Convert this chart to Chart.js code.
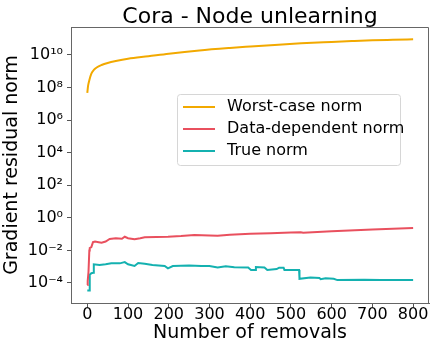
<!DOCTYPE html>
<html>
<head>
    <meta charset="UTF-8">
    <title>Cora - Node unlearning</title>
    <script src="https://cdn.jsdelivr.net/npm/chart.js"></script>
    <style>
        body {
            margin: 0;
            background-color: #fff;
        }
        #chart {
            display: block;
        }
    </style>
</head>
<body>
<canvas id="chart" width="436" height="349"></canvas>
<script>
    // values (y is a log axis)
    const worstX = [0, 2, 5, 10, 16, 23, 35, 50, 70, 100, 150, 200, 275, 350, 400, 450, 525, 600, 650, 700, 750, 800];
    const worstNorm = [4.7e7, 1.3e8, 2.8e8, 7.1e8, 1.2e9, 1.7e9, 2.4e9, 3.2e9, 4.2e9, 5.8e9, 8.3e9, 1.2e10, 1.9e10,
        2.7e10, 3.3e10, 4.0e10, 5.2e10, 6.3e10, 7.1e10, 7.9e10, 8.5e10, 9.1e10];

    const dataDepX = [0, 1, 3, 5, 6, 10, 14, 19, 28, 35, 45, 55, 70, 85, 92, 100, 116, 130, 141, 170, 198, 230, 263,
        300, 320, 350, 400, 450, 500, 524, 530, 600, 700, 800];
    const dataDepNorm = [7.6e-5, 1.3e-4, 4.9e-4, 1.0e-2, 1.4e-2, 1.6e-2, 3.2e-2, 3.5e-2, 3.2e-2, 3.0e-2, 3.5e-2, 5.0e-2,
        5.5e-2, 5.2e-2, 6.9e-2, 5.6e-2, 4.8e-2, 5.6e-2, 6.5e-2, 6.6e-2, 6.9e-2, 7.6e-2, 8.9e-2, 8.3e-2, 7.9e-2, 9.3e-2,
        1.05e-1, 1.15e-1, 1.26e-1, 1.3e-1, 1.2e-1, 1.5e-1, 1.9e-1, 2.4e-1];

    const trueX = [0, 5, 6, 10, 15, 16, 30, 45, 59, 80, 92, 100, 116, 125, 141, 160, 190, 198, 210, 250, 280, 300, 320,
        340, 361, 395, 402, 412, 414, 435, 442, 465, 471, 482, 484, 520, 521, 548, 570, 573, 585, 605, 614, 680, 720, 800];
    const trueNorm = [3.5e-5, 3.5e-5, 3.2e-4, 4.0e-4, 4.2e-4, 1.4e-3, 1.26e-3, 1.4e-3, 1.6e-3, 1.6e-3, 1.9e-3, 1.4e-3,
        1.1e-3, 1.7e-3, 1.5e-3, 1.26e-3, 1.1e-3, 7.9e-4, 1.1e-3, 1.2e-3, 1.1e-3, 1.1e-3, 8.9e-4, 1.05e-3, 9.1e-4, 8.9e-4,
        6.3e-4, 6.3e-4, 9.5e-4, 8.9e-4, 6.3e-4, 7.1e-4, 8.7e-4, 8.7e-4, 6.3e-4, 6.3e-4, 1.8e-4, 2.2e-4, 2.0e-4, 1.7e-4,
        1.95e-4, 1.8e-4, 1.5e-4, 1.6e-4, 1.5e-4, 1.5e-4];

    const xTicks = [0, 100, 200, 300, 400, 500, 600, 700, 800];
    const yTicks = [1e-4, 1e-2, 1e0, 1e2, 1e4, 1e6, 1e8, 1e10];

    const sup = {'-': '\u207B', '0': '\u2070', '1': '\u00B9', '2': '\u00B2', '3': '\u00B3', '4': '\u2074',
        '5': '\u2075', '6': '\u2076', '7': '\u2077', '8': '\u2078', '9': '\u2079'};
    function powLabel(v) {
        const e = String(Math.round(Math.log10(v)));
        return '10' + e.split('').map(c => sup[c]).join('');
    }
    function pts(xs, ys) {
        return xs.map((x, i) => ({x: x, y: ys[i]}));
    }

    const font = 'DejaVu Sans';

    // title centred on the plot, plus top and right spines
    const frame = {
        id: 'frame',
        afterDraw(chart) {
            const a = chart.chartArea, c = chart.ctx;
            c.save();
            c.strokeStyle = '#666';
            c.lineWidth = 1;
            c.beginPath();
            c.moveTo(a.left, a.top + 0.5);
            c.lineTo(a.right - 0.5, a.top + 0.5);
            c.lineTo(a.right - 0.5, a.bottom);
            c.stroke();
            c.fillStyle = '#000';
            c.font = '22px ' + font;
            c.textAlign = 'center';
            c.textBaseline = 'alphabetic';
            c.fillText('Cora - Node unlearning', (a.left + a.right) / 2, 23);
            c.restore();
        }
    };

    // legend box inside the plot
    const boxLegend = {
        id: 'boxLegend',
        afterDraw(chart) {
            const a = chart.chartArea, c = chart.ctx;
            const x = a.left + 106, y = a.top + 67, w = 223, h = 71;
            c.save();
            c.fillStyle = 'rgba(255,255,255,0.8)';
            c.strokeStyle = '#d6d6d6';
            c.lineWidth = 1;
            c.beginPath();
            c.roundRect(x + 0.5, y + 0.5, w, h, 3);
            c.fill();
            c.stroke();
            c.font = '16px ' + font;
            c.textBaseline = 'middle';
            chart.data.datasets.forEach((ds, i) => {
                const ry = y + 13 + i * 22;
                c.strokeStyle = ds.borderColor;
                c.lineWidth = 2;
                c.beginPath();
                c.moveTo(x + 6, ry);
                c.lineTo(x + 38, ry);
                c.stroke();
                c.fillStyle = '#000';
                c.fillText(ds.label, x + 50, ry);
            });
            c.restore();
        }
    };

    new Chart(document.getElementById('chart'), {
        type: 'line',
        data: {
            datasets: [{
                label: 'Worst-case norm',
                data: pts(worstX, worstNorm),
                borderColor: '#f2a900',
                borderWidth: 2,
                pointRadius: 0,
                cubicInterpolationMode: 'monotone'
            }, {
                label: 'Data-dependent norm',
                data: pts(dataDepX, dataDepNorm),
                borderColor: '#e9505e',
                borderWidth: 2,
                pointRadius: 0
            }, {
                label: 'True norm',
                data: pts(trueX, trueNorm),
                borderColor: '#14b1b0',
                borderWidth: 2,
                pointRadius: 0
            }]
        },
        options: {
            responsive: false,
            animation: false,
            devicePixelRatio: 1,
            layout: {padding: {left: 0, right: 7, top: 27, bottom: 0}},
            plugins: {
                legend: {display: false},
                tooltip: {enabled: false},
                title: {display: false}
            },
            scales: {
                x: {
                    type: 'linear',
                    min: -40,
                    max: 839,
                    afterBuildTicks: s => { s.ticks = xTicks.map(v => ({value: v})); },
                    afterFit: s => { s.height = 46; },
                    grid: {drawOnChartArea: false, drawTicks: true, tickLength: 4, color: '#555'},
                    border: {color: '#666'},
                    ticks: {color: '#000', font: {family: font, size: 16}, padding: -2, maxRotation: 0},
                    title: {
                        display: true,
                        text: 'Number of removals',
                        color: '#000',
                        font: {family: font, size: 19},
                        padding: {top: 0, bottom: 5}
                    }
                },
                y: {
                    type: 'logarithmic',
                    min: 5.9e-6,
                    max: 5.2e11,
                    afterBuildTicks: s => { s.ticks = yTicks.map(v => ({value: v})); },
                    afterFit: s => { s.width = 71; },
                    grid: {drawOnChartArea: false, drawTicks: true, tickLength: 4, color: '#555'},
                    border: {color: '#666'},
                    ticks: {color: '#000', font: {family: font, size: 16}, padding: 4, callback: v => powLabel(v)},
                    title: {
                        display: true,
                        text: 'Gradient residual norm',
                        color: '#000',
                        font: {family: font, size: 19},
                        padding: {top: 1, bottom: 0}
                    }
                }
            }
        },
        plugins: [frame, boxLegend]
    });
</script>
</body>
</html>
